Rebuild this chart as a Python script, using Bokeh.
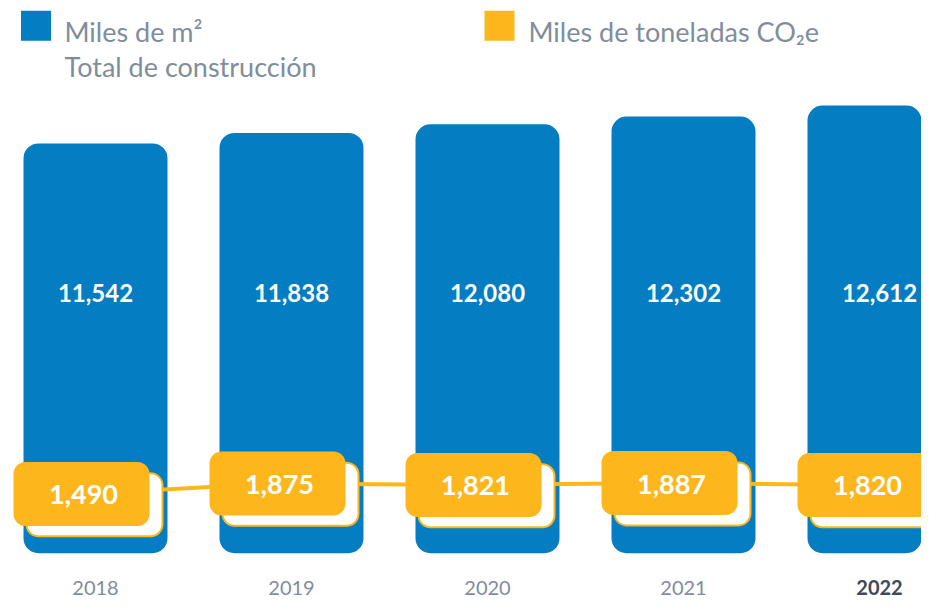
from bokeh.plotting import figure
from bokeh.models import Range1d, ColumnDataSource
from bokeh.embed import file_html
from bokeh.resources import INLINE
from bokeh.core.properties import value

# ---------------- data ----------------
years = ["2018", "2019", "2020", "2021", "2022"]
area_miles_m2 = [11542, 11838, 12080, 12302, 12612]
co2_miles_ton = [1490, 1875, 1821, 1887, 1820]
legend_area = ["Miles de m²", "Total de construcción"]
legend_co2 = "Miles de toneladas CO₂e"
highlight_year = "2022"

# ---------------- style ----------------
BLUE = "#047dc2"
YELLOW = "#fdb71d"
GRAY = "#808d9c"
DARK = "#3e4959"
FONT = "Lato"

W, H = 921, 598
# layout geometry expressed in reference-picture pixels
X_CENTER0, X_STEP = 95, 196          # px of first bar centre, px per category
Y_BASE, Y_SCALE = 568, 416 / 11542   # px of bar baseline, px per m2-unit
C_REF, C_PX, C_SCALE = 1778.6, 499.8, 0.0279  # co2 axis mapping
TOP_PX, BOTTOM_PX = 6.85, 613.95     # reference px shown at top / bottom of canvas


def px2x(px):
    return (px - X_CENTER0) / X_STEP


def px2y(py):
    return (Y_BASE - py) / Y_SCALE


def px2c(py):
    return C_REF + (C_PX - py) / C_SCALE


p = figure(width=W, height=H,
           x_range=Range1d(px2x(0), px2x(W)),
           y_range=Range1d(px2y(BOTTOM_PX), px2y(TOP_PX)),
           output_backend="svg", toolbar_location=None,
           min_border=0, x_axis_type=None, y_axis_type=None)
p.extra_y_ranges = {"co2": Range1d(px2c(BOTTOM_PX), px2c(TOP_PX))}
p.grid.visible = False
p.outline_line_color = None
p.background_fill_color = "white"
p.border_fill_color = "white"

idx = list(range(len(years)))
box_dx = -14 / X_STEP
shadow_dx = -1 / X_STEP
shadow_dy = -11 / C_SCALE

src = ColumnDataSource(dict(
    x=idx,
    area=area_miles_m2,
    co2=co2_miles_ton,
    box_x=[i + box_dx for i in idx],
    text_x=[i + box_dx for i in idx],
    shadow_x=[i + shadow_dx for i in idx],
    shadow_y=[v + shadow_dy for v in co2_miles_ton],
    area_lbl=[f"{v:,}" for v in area_miles_m2],
    co2_lbl=[f"{v:,}" for v in co2_miles_ton],
    lbl_y=[px2y(304)] * len(years),
    year=years,
    year_y=[px2y(603)] * len(years),
    year_style=["bold" if y == highlight_year else "normal" for y in years],
    year_color=[DARK if y == highlight_year else GRAY for y in years],
))

# bars
p.vbar(x="x", top="area", bottom=0, width=144 / X_STEP, source=src,
       fill_color=BLUE, line_color=None, border_radius=15)
p.text(x="x", y="lbl_y", text="area_lbl", source=src, text_color="white",
       text_font=value(FONT), text_font_style="bold", text_font_size="24px",
       text_align="center", text_baseline="middle")

# co2 line and label boxes
p.line(x="box_x", y="co2", source=src, y_range_name="co2",
       line_color=YELLOW, line_width=4)
p.rect(x="shadow_x", y="shadow_y", width=136, height=63,
       width_units="screen", height_units="screen", source=src,
       y_range_name="co2", fill_color="white", line_color=YELLOW,
       line_width=2, border_radius=12)
p.rect(x="box_x", y="co2", width=136, height=64,
       width_units="screen", height_units="screen", source=src,
       y_range_name="co2", fill_color=YELLOW, line_color=None,
       border_radius=12)
p.text(x="text_x", y="co2", text="co2_lbl", source=src, y_range_name="co2",
       text_color="white", text_font=value(FONT), text_font_style="bold",
       text_font_size="27px", text_align="center", text_baseline="middle",
       x_offset=2, y_offset=1)

# year labels
p.text(x="x", y="year_y", text="year", source=src, text_color="year_color",
       text_font=value(FONT), text_font_style="year_style",
       text_font_size="20px", text_align="center", text_baseline="middle")

# legend
p.rect(x=[px2x(35.5)], y=[px2y(32.5)], width=30, height=30,
       width_units="screen", height_units="screen",
       fill_color=BLUE, line_color=None)
p.rect(x=[px2x(499)], y=[px2y(32.5)], width=30, height=30,
       width_units="screen", height_units="screen",
       fill_color=YELLOW, line_color=None)
p.text(x=[px2x(64), px2x(64)], y=[px2y(38), px2y(74)], text=legend_area,
       text_color=GRAY, text_font=value(FONT), text_font_size="27px",
       text_align="left", text_baseline="alphabetic")
p.text(x=[px2x(528)], y=[px2y(38)], text=[legend_co2],
       text_color=GRAY, text_font=value(FONT), text_font_size="27px",
       text_align="left", text_baseline="alphabetic")

open("out.html", "w").write(file_html(p, INLINE))
